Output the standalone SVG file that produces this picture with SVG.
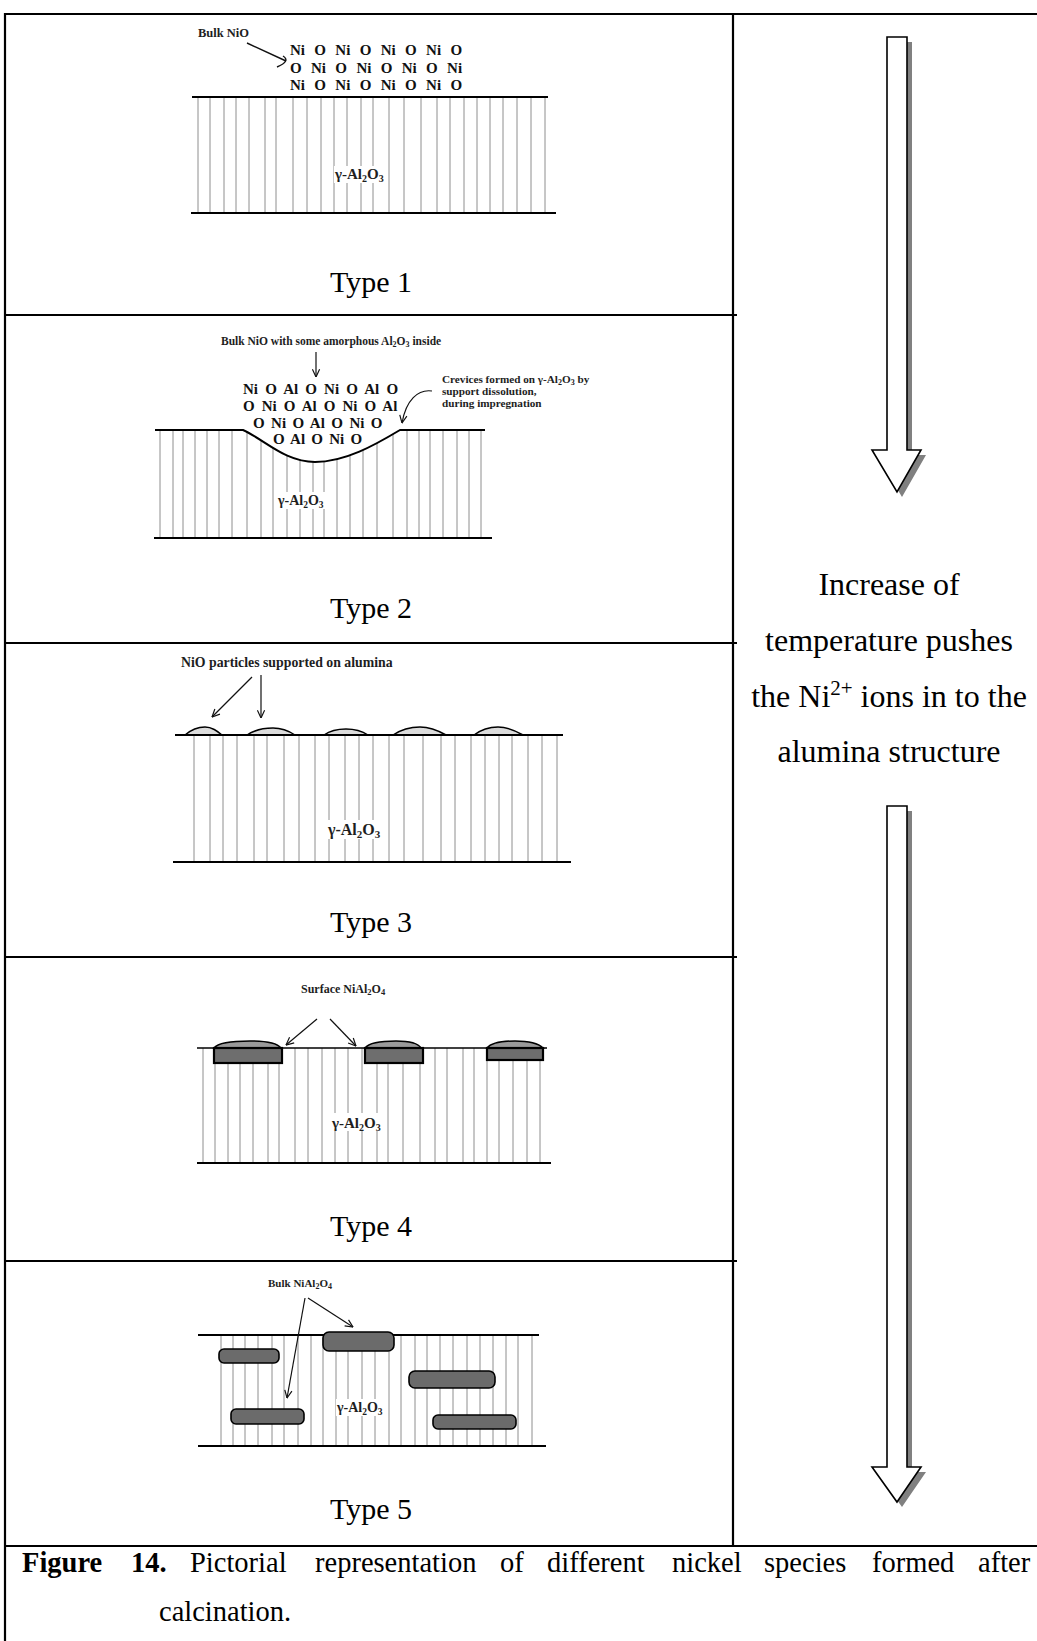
<svg xmlns="http://www.w3.org/2000/svg" width="1037" height="1641" viewBox="0 0 1037 1641">
  <style>
    .rule { stroke: #000; stroke-width: 2.2; fill: none; }
    .hatch { stroke: #8e8e8e; stroke-width: 1; fill: none; }
    .surf { stroke: #000; stroke-width: 2; fill: none; }
    .thin { stroke: #000; stroke-width: 1.4; fill: none; }
    .lbl { font-family: "Liberation Serif", "Times New Roman", serif; font-weight: bold; fill: #1e1e1e; }
    .atoms { font-family: "Liberation Serif", "Times New Roman", serif; font-weight: bold; font-size: 15px; fill: #111; }
    .phase { font-family: "Liberation Serif", "Times New Roman", serif; font-weight: bold; fill: #1e1e1e; }
    .type { font-family: "Liberation Serif", "Times New Roman", serif; font-size: 30px; fill: #000; text-anchor: middle; }
    .side { font-family: "Liberation Serif", "Times New Roman", serif; font-size: 32px; fill: #000; text-anchor: middle; }
    .cap { font-family: "Liberation Serif", "Times New Roman", serif; font-size: 28.5px; fill: #000; }
    .ptr { stroke: #111; stroke-width: 1.2; fill: none; marker-end: url(#chev); }
    .bump { fill: #dcdcdc; stroke: #000; stroke-width: 1.5; }
    .cap4 { fill: #9a9a9a; stroke: #000; stroke-width: 1.5; }
    .block { fill: #6e6e6e; stroke: #000; stroke-width: 2.2; }
    .bar { fill: #6b6b6b; stroke: #000; stroke-width: 1.6; }
    .bigarrow { fill: #fff; stroke: #000; stroke-width: 1.6; stroke-linejoin: miter; }
    .shadow { fill: #808080; }
  </style>
  <defs>
    <marker id="chev" viewBox="0 0 10 10" refX="9.5" refY="5" markerWidth="9" markerHeight="9" markerUnits="userSpaceOnUse" orient="auto">
      <path d="M1,1 L9.5,5 L1,9" fill="none" stroke="#111" stroke-width="1.3"/>
    </marker>
    <path id="arrowTop" d="M887,37 L907,37 L907,450 L921,450 L897,492 L872,450 L887,450 Z"/>
    <path id="arrowBottom" d="M887,806 L907,806 L907,1467 L921,1467 L897,1502 L872,1467 L887,1467 Z"/>
  </defs>

  <rect x="0" y="0" width="1037" height="1641" fill="#fff"/>

  <!-- table frame -->
  <g id="table">
    <line class="rule" x1="5" y1="14" x2="1037" y2="14" stroke-width="2.6"/>
    <line class="rule" x1="5" y1="13" x2="5" y2="1641"/>
    <line class="rule" x1="733" y1="14" x2="733" y2="1546"/>
    <line class="rule" x1="5" y1="315" x2="737" y2="315"/>
    <line class="rule" x1="5" y1="643" x2="737" y2="643"/>
    <line class="rule" x1="5" y1="957" x2="737" y2="957"/>
    <line class="rule" x1="5" y1="1261" x2="737" y2="1261"/>
    <line class="rule" x1="5" y1="1546" x2="1037" y2="1546" stroke-width="2.6"/>
  </g>

  <!-- Type 1: bulk NiO on the support -->
  <g id="type1">
    <path class="hatch" d="M198,97V213 M210,97V213 M224,97V213 M236,97V213 M249,97V213 M265,97V213 M276,97V213 M293,97V213 M307,97V213 M321,97V213 M334,97V213 M347,97V213 M361,97V213 M373,97V213 M389,97V213 M404,97V213 M421,97V213 M437,97V213 M450,97V213 M464,97V213 M477,97V213 M490,97V213 M503,97V213 M517,97V213 M531,97V213 M545,97V213"/>
    <line class="surf" x1="192" y1="97" x2="548" y2="97" stroke-width="2.4"/>
    <line class="surf" x1="191" y1="213" x2="556" y2="213"/>
    <text class="lbl" x="198" y="37" font-size="12.5">Bulk NiO</text>
    <text class="atoms" x="290" y="55" word-spacing="5.6">Ni O Ni O Ni O Ni O</text>
    <text class="atoms" x="290" y="72.5" word-spacing="5.6">O Ni O Ni O Ni O Ni</text>
    <text class="atoms" x="290" y="90" word-spacing="5.6">Ni O Ni O Ni O Ni O</text>
    <rect x="334" y="166" width="52" height="17" fill="#fff"/>
    <text class="phase" x="335" y="179" font-size="15">γ-Al<tspan font-size="10" dy="3">2</tspan><tspan dy="-3">O</tspan><tspan font-size="10" dy="3">3</tspan></text>
    <text class="type" x="371" y="292">Type 1</text>
  </g>

  <!-- Type 2: bulk NiO with amorphous alumina in a crevice -->
  <g id="type2">
    <path class="hatch" d="M160,430V538 M173,430V538 M183,430V538 M195,430V538 M207,430V538 M219,430V538 M232,430V538 M247,430V538 M261,430V538 M273,430V538 M287,430V538 M300,430V538 M313,430V538 M324,430V538 M337,430V538 M350,430V538 M363,430V538 M377,430V538 M393,430V538 M407,430V538 M419,430V538 M430,430V538 M443,430V538 M457,430V538 M469,430V538 M481,430V538"/>
    <path d="M243,429 C265,440 285,462 315,462 C345,462 375,445 400,429 Z" fill="#fff"/>
    <path class="surf" d="M155,430 L243,430 C265,440 285,462 315,462 C345,462 375,445 400,430 L485,430"/>
    <line class="surf" x1="154" y1="538" x2="492" y2="538"/>
    <text class="lbl" x="221" y="345" font-size="11.5">Bulk NiO with some amorphous Al<tspan font-size="8" dy="2">2</tspan><tspan dy="-2">O</tspan><tspan font-size="8" dy="2">3</tspan><tspan dy="-2"> inside</tspan></text>
    <text class="atoms" x="243" y="394" word-spacing="3.4">Ni O Al O Ni O Al O</text>
    <text class="atoms" x="243" y="411" word-spacing="3.3">O Ni O Al O Ni O Al</text>
    <text class="atoms" x="253" y="427.5" word-spacing="2.7">O Ni O Al O Ni O</text>
    <text class="atoms" x="273" y="444" word-spacing="2.5">O Al O Ni O</text>
    <text class="lbl" font-size="11.2"><tspan x="442" y="383">Crevices formed on γ-Al<tspan font-size="8" dy="2">2</tspan><tspan dy="-2">O</tspan><tspan font-size="8" dy="2">3</tspan><tspan dy="-2"> by</tspan></tspan><tspan x="442" y="395">support dissolution,</tspan><tspan x="442" y="407">during impregnation</tspan></text>
    <rect x="277" y="492" width="54" height="17" fill="#fff"/>
    <text class="phase" x="278" y="505" font-size="14">γ-Al<tspan font-size="9.5" dy="3">2</tspan><tspan dy="-3">O</tspan><tspan font-size="9.5" dy="3">3</tspan></text>
    <text class="type" x="371" y="618">Type 2</text>
  </g>

  <!-- Type 3: NiO particles on the alumina surface -->
  <g id="type3">
    <path class="hatch" d="M194,735V862 M210,735V862 M223,735V862 M237,735V862 M254,735V862 M267,735V862 M284,735V862 M299,735V862 M315,735V862 M329,735V862 M345,735V862 M359,735V862 M373,735V862 M389,735V862 M404,735V862 M423,735V862 M441,735V862 M455,735V862 M471,735V862 M485,735V862 M499,735V862 M512,735V862 M528,735V862 M542,735V862 M557,735V862"/>
    <path class="bump" d="M185,735 C192,729 199,727 205,727 C212,727 217,731 222,735 Z"/>
    <path class="bump" d="M247,735 C256,729 266,728 273,728 C282,728 289,731 295,735 Z"/>
    <path class="bump" d="M324,735 C331,730 339,729 346,729 C354,729 362,731 368,735 Z"/>
    <path class="bump" d="M393,735 C402,729 412,727 420,727 C430,727 439,731 446,735 Z"/>
    <path class="bump" d="M474,735 C482,729 491,727 498,727 C507,727 516,731 523,735 Z"/>
    <line class="surf" x1="175" y1="735" x2="563" y2="735" stroke-width="2.4"/>
    <line class="surf" x1="173" y1="862" x2="571" y2="862"/>
    <text class="lbl" x="181" y="667" font-size="13.8">NiO particles supported on alumina</text>
    <rect x="327" y="820" width="60" height="19" fill="#fff"/>
    <text class="phase" x="328" y="835" font-size="16">γ-Al<tspan font-size="11" dy="3">2</tspan><tspan dy="-3">O</tspan><tspan font-size="11" dy="3">3</tspan></text>
    <text class="type" x="371" y="932">Type 3</text>
  </g>

  <!-- Type 4: surface nickel aluminate -->
  <g id="type4">
    <path class="hatch" d="M203,1048V1163 M215,1048V1163 M228,1048V1163 M240,1048V1163 M253,1048V1163 M268,1048V1163 M279,1048V1163 M295,1048V1163 M308,1048V1163 M322,1048V1163 M335,1048V1163 M348,1048V1163 M362,1048V1163 M377,1048V1163 M388,1048V1163 M403,1048V1163 M420,1048V1163 M435,1048V1163 M447,1048V1163 M463,1048V1163 M474,1048V1163 M487,1048V1163 M499,1048V1163 M513,1048V1163 M527,1048V1163 M540,1048V1163"/>
    <line class="thin" x1="197" y1="1048" x2="547" y2="1048" stroke-width="1.6"/>
    <path class="cap4" d="M214,1048 C218,1043 232,1041 250,1041 C268,1041 277,1043 281,1048 Z"/>
    <rect class="block" x="214" y="1048" width="68" height="15"/>
    <path class="cap4" d="M365,1048 C369,1043 382,1041 396,1041 C410,1041 418,1043 421,1048 Z"/>
    <rect class="block" x="365" y="1048" width="58" height="15"/>
    <path class="cap4" d="M487,1048 C491,1043 503,1041 515,1041 C528,1041 538,1043 543,1048 Z"/>
    <rect class="block" x="487" y="1048" width="56" height="12"/>
    <line class="surf" x1="197" y1="1163" x2="551" y2="1163"/>
    <text class="lbl" x="301" y="993" font-size="12">Surface NiAl<tspan font-size="8.5" dy="2">2</tspan><tspan dy="-2">O</tspan><tspan font-size="8.5" dy="2">4</tspan></text>
    <rect x="331" y="1113" width="55" height="18" fill="#fff"/>
    <text class="phase" x="332" y="1128" font-size="15">γ-Al<tspan font-size="10" dy="3">2</tspan><tspan dy="-3">O</tspan><tspan font-size="10" dy="3">3</tspan></text>
    <text class="type" x="371" y="1236">Type 4</text>
  </g>

  <!-- Type 5: bulk nickel aluminate inside the support -->
  <g id="type5">
    <path class="hatch" d="M221,1335V1446 M233,1335V1446 M245,1335V1446 M258,1335V1446 M272,1335V1446 M284,1335V1446 M298,1335V1446 M311,1335V1446 M323,1335V1446 M336,1335V1446 M348,1335V1446 M362,1335V1446 M375,1335V1446 M389,1335V1446 M401,1335V1446 M415,1335V1446 M427,1335V1446 M440,1335V1446 M453,1335V1446 M467,1335V1446 M480,1335V1446 M493,1335V1446 M506,1335V1446 M518,1335V1446 M532,1335V1446"/>
    <line class="surf" x1="198" y1="1335" x2="539" y2="1335"/>
    <line class="surf" x1="198" y1="1446" x2="546" y2="1446"/>
    <rect class="bar" x="219" y="1349" width="60" height="14" rx="5"/>
    <rect class="bar" x="323" y="1332" width="71" height="19" rx="6"/>
    <rect class="bar" x="409" y="1371" width="86" height="17" rx="6"/>
    <rect class="bar" x="231" y="1409" width="73" height="15" rx="5"/>
    <rect class="bar" x="433" y="1415" width="83" height="14" rx="5"/>
    <text class="lbl" x="268" y="1287" font-size="11">Bulk NiAl<tspan font-size="8" dy="2">2</tspan><tspan dy="-2">O</tspan><tspan font-size="8" dy="2">4</tspan></text>
    <rect x="336" y="1399" width="51" height="17" fill="#fff"/>
    <text class="phase" x="337" y="1412" font-size="14">γ-Al<tspan font-size="9.5" dy="3">2</tspan><tspan dy="-3">O</tspan><tspan font-size="9.5" dy="3">3</tspan></text>
    <text class="type" x="371" y="1519">Type 5</text>
  </g>

  <!-- pointers from the labels to the features -->
  <g id="label-arrows">
    <path d="M247,43 L286,61" stroke="#111" stroke-width="1.4" fill="none"/>
    <path d="M283,56 Q291,61 277,67" stroke="#111" stroke-width="1.4" fill="none"/>
    <path class="ptr" d="M316,352 L316,377"/>
    <path class="ptr" d="M432,391 C418,389 406,400 402,423"/>
    <path class="ptr" d="M252,677 L212,717"/>
    <path class="ptr" d="M261,675 L261,718"/>
    <path class="ptr" d="M317,1019 L286,1045"/>
    <path class="ptr" d="M330,1019 L356,1046"/>
    <path class="ptr" d="M305,1298 L287,1398"/>
    <path class="ptr" d="M308,1298 L353,1327"/>
  </g>

  <!-- temperature trend column -->
  <g id="trend">
    <use href="#arrowTop" class="shadow" transform="translate(5,5)"/>
    <use href="#arrowTop" class="bigarrow"/>
    <use href="#arrowBottom" class="shadow" transform="translate(5,5)"/>
    <use href="#arrowBottom" class="bigarrow"/>
    <text class="side" x="889" y="595">Increase of</text>
    <text class="side" x="889" y="651">temperature pushes</text>
    <text class="side" x="889" y="707">the Ni<tspan font-size="21" dy="-12">2+</tspan><tspan dy="12"> ions in to the</tspan></text>
    <text class="side" x="889" y="762">alumina structure</text>
  </g>

  <!-- caption row -->
  <g id="caption">
    <text class="cap" y="1572"><tspan x="22" font-weight="bold">Figure</tspan><tspan x="131" font-weight="bold">14.</tspan><tspan x="190">Pictorial</tspan><tspan x="315">representation</tspan><tspan x="500">of</tspan><tspan x="547">different</tspan><tspan x="672">nickel</tspan><tspan x="764">species</tspan><tspan x="872">formed</tspan><tspan x="978">after</tspan></text>
    <text class="cap" x="159" y="1621">calcination.</text>
  </g>
</svg>
